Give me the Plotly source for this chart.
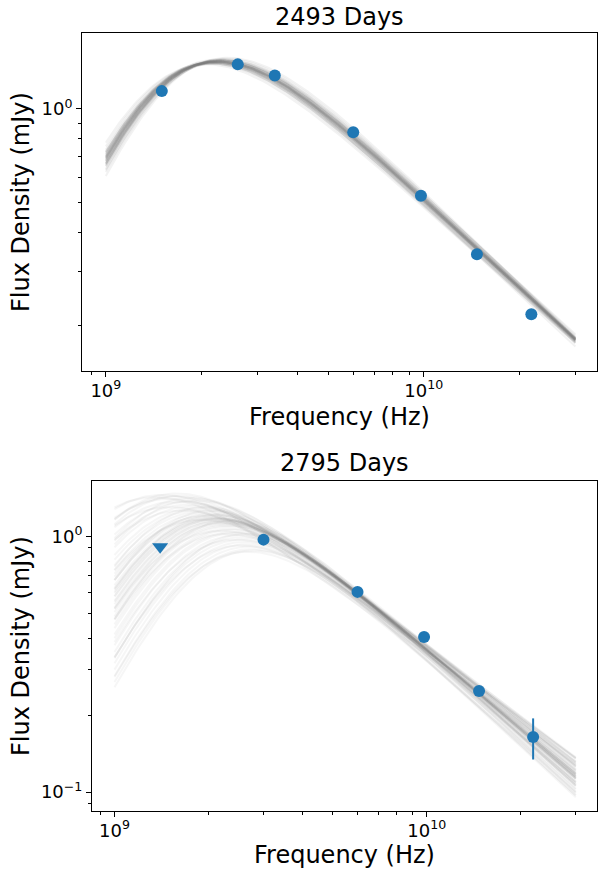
import numpy as np
import plotly.graph_objects as go

# ---------------- data ----------------
# Epoch 1 (2493 days): detections
TOP_FREQ = [1.5e9, 2.6e9, 3.4e9, 6.0e9, 9.8e9, 1.47e10, 2.18e10]
TOP_FLUX = [1.14, 1.39, 1.28, 0.84, 0.525, 0.34, 0.218]

# Epoch 2 (2795 days): detections + one upper limit
BOT_FREQ = [3.0e9, 6.0e9, 9.8e9, 1.47e10, 2.19e10]
BOT_FLUX = [0.97, 0.606, 0.404, 0.248, 0.164]
BOT_ERR = [0.0, 0.0, 0.0, 0.0, 0.03]
BOT_UL_FREQ = [1.4e9]
BOT_UL_FLUX = [0.91]

# Model-draw parameters (peak frequency in GHz, peak flux in mJy, optically thin index)
TOP_NU_P = [2.25, 2.20, 2.30, 2.22, 2.27, 2.15, 2.33, 2.24, 2.18, 2.29,
            2.26, 2.21, 2.31, 2.23, 2.28, 2.12, 2.36, 2.19, 2.25, 2.30,
            2.17, 2.27, 2.22, 2.34, 2.20, 2.26, 2.24, 2.29, 2.16, 2.32,
            2.08, 2.42, 2.25, 2.21, 2.28, 2.23, 2.19, 2.38, 2.26, 2.24]
TOP_F_P = [1.42, 1.41, 1.43, 1.42, 1.42, 1.40, 1.44, 1.42, 1.41, 1.43,
           1.42, 1.41, 1.43, 1.42, 1.42, 1.40, 1.44, 1.41, 1.42, 1.43,
           1.40, 1.42, 1.41, 1.43, 1.41, 1.42, 1.42, 1.43, 1.40, 1.44,
           1.39, 1.46, 1.44, 1.40, 1.41, 1.43, 1.42, 1.45, 1.41, 1.42]
TOP_A2 = [-0.95, -0.94, -0.96, -0.95, -0.95, -0.93, -0.96, -0.95, -0.94, -0.96,
          -0.95, -0.94, -0.96, -0.95, -0.96, -0.93, -0.97, -0.94, -0.95, -0.96,
          -0.94, -0.95, -0.95, -0.97, -0.94, -0.95, -0.95, -0.96, -0.94, -0.97,
          -0.92, -0.99, -0.94, -0.96, -0.96, -0.95, -0.94, -0.98, -0.95, -0.95]

BOT_NU_P = [1.35, 1.42, 1.50, 1.55, 1.60, 1.62, 1.68, 1.72, 1.78, 1.80,
            1.85, 1.88, 1.92, 1.95, 1.97, 2.00, 2.02, 2.04, 2.06, 2.08,
            2.10, 2.11, 2.13, 2.15, 2.16, 2.18, 2.20, 2.21, 2.23, 2.25,
            2.27, 2.30, 2.32, 2.35, 2.38, 2.42, 2.45, 2.50, 2.55, 2.58,
            2.62, 2.66, 2.70, 2.74, 2.78, 1.50, 1.75, 1.95, 2.20, 2.35,
            2.55, 1.65, 2.05, 2.28, 2.62, 1.58, 1.90, 2.45, 2.68, 2.12]
BOT_F_P = [1.42, 1.45, 1.40, 1.43, 1.37, 1.44, 1.36, 1.33, 1.31, 1.38,
           1.29, 1.27, 1.25, 1.23, 1.20, 1.21, 1.19, 1.22, 1.18, 1.17,
           1.18, 1.16, 1.17, 1.15, 1.17, 1.14, 1.15, 1.13, 1.12, 1.13,
           1.11, 1.10, 1.09, 1.07, 1.06, 1.04, 1.03, 1.01, 0.99, 0.97,
           0.95, 0.93, 0.91, 0.89, 0.88, 1.30, 1.41, 1.30, 1.05, 1.15,
           0.92, 1.26, 1.26, 1.02, 1.02, 1.47, 1.16, 0.97, 0.87, 1.21]
BOT_A2 = [-0.90, -0.92, -0.91, -0.94, -0.92, -0.97, -0.94, -0.95, -0.96, -1.00,
          -0.97, -0.98, -0.99, -1.00, -0.98, -1.01, -1.01, -1.03, -1.02, -1.02,
          -1.03, -1.03, -1.04, -1.03, -1.05, -1.04, -1.05, -1.04, -1.05, -1.06,
          -1.05, -1.06, -1.06, -1.07, -1.07, -1.08, -1.08, -1.09, -1.09, -1.10,
          -1.10, -1.11, -1.12, -1.12, -1.13, -0.88, -1.01, -1.07, -0.98, -1.12,
          -1.04, -0.90, -1.09, -1.00, -1.15, -0.99, -0.95, -1.03, -1.08, -1.06]

MODEL_NU_MIN = 1.0e9
MODEL_NU_MAX = 3.0e10


def sbpl(nu, nu_p_ghz, f_p, a2, s=0.8, a1=2.5):
    """Smoothly broken power law normalised to its peak."""
    u_star = np.log10(a1 / (-a2)) / (s * (a1 - a2))
    nu_b = nu_p_ghz * 1e9 / 10 ** u_star

    def shape(x):
        return (x ** (-s * a1) + x ** (-s * a2)) ** (-1.0 / s)

    return f_p * shape(nu / nu_b) / shape(10 ** u_star)


nu_grid = np.logspace(np.log10(MODEL_NU_MIN), np.log10(MODEL_NU_MAX), 150)

W, H = 598, 869
FONT = "DejaVu Sans"
BLUE = "#1f77b4"
CURVE_TOP = "rgba(128,128,128,0.1)"
CURVE_BOT = "rgba(128,128,128,0.07)"

fig = go.Figure()

for nup, fp, a2 in zip(TOP_NU_P, TOP_F_P, TOP_A2):
    fig.add_trace(go.Scatter(x=nu_grid, y=sbpl(nu_grid, nup, fp, a2), mode="lines",
                             line=dict(color=CURVE_TOP, width=2), hoverinfo="skip",
                             showlegend=False, xaxis="x", yaxis="y"))
fig.add_trace(go.Scatter(x=TOP_FREQ, y=TOP_FLUX, mode="markers",
                         marker=dict(color=BLUE, size=12), showlegend=False,
                         xaxis="x", yaxis="y"))

for nup, fp, a2 in zip(BOT_NU_P, BOT_F_P, BOT_A2):
    fig.add_trace(go.Scatter(x=nu_grid, y=sbpl(nu_grid, nup, fp, a2), mode="lines",
                             line=dict(color=CURVE_BOT, width=2), hoverinfo="skip",
                             showlegend=False, xaxis="x2", yaxis="y2"))
fig.add_trace(go.Scatter(x=BOT_FREQ, y=BOT_FLUX, mode="markers",
                         marker=dict(color=BLUE, size=12),
                         error_y=dict(type="data", array=BOT_ERR, color=BLUE,
                                      thickness=2, width=0),
                         showlegend=False, xaxis="x2", yaxis="y2"))
fig.add_trace(go.Scatter(x=BOT_UL_FREQ, y=BOT_UL_FLUX, mode="markers",
                         marker=dict(color=BLUE, size=14, symbol="triangle-down"),
                         showlegend=False, xaxis="x2", yaxis="y2"))


def px_x(p):
    return p / W


def px_y(p):
    return 1 - p / H


XMAJ = [1e9, 1e10]
XMAJ_TXT = ["10<sup>9</sup>", "10<sup>10</sup>"]
XMIN = [9e8, 2e9, 3e9, 4e9, 5e9, 6e9, 7e9, 8e9, 9e9, 2e10, 3e10]
YMIN = [0.09, 0.2, 0.3, 0.4, 0.5, 0.6, 0.7, 0.8, 0.9]

common = dict(type="log", showline=True, linecolor="black", linewidth=1, mirror=True,
              ticks="outside", ticklen=5, tickwidth=1, tickcolor="black",
              showgrid=False, zeroline=False,
              tickfont=dict(family=FONT, size=18, color="black"))
minor = dict(ticks="outside", ticklen=3, tickwidth=1, tickcolor="black", showgrid=False)

fig.update_layout(
    width=W, height=H, margin=dict(l=0, r=0, t=0, b=0),
    paper_bgcolor="white", plot_bgcolor="white",
    font=dict(family=FONT, color="black"),
    xaxis=dict(common, domain=[px_x(82), px_x(597)], range=[8.925, 10.545], anchor="y",
               tickmode="array", tickvals=XMAJ, ticktext=XMAJ_TXT, ticklabelstandoff=-2,
               minor=dict(minor, tickvals=XMIN)),
    yaxis=dict(common, domain=[px_y(371), px_y(33)], range=[-0.844, 0.244], anchor="x",
               tickmode="array", tickvals=[1.0], ticktext=["10<sup>0</sup>"],
               minor=dict(minor, tickvals=YMIN)),
    xaxis2=dict(common, domain=[px_x(92), px_x(597)], range=[8.928, 10.545], anchor="y2",
                tickmode="array", tickvals=XMAJ, ticktext=XMAJ_TXT, ticklabelstandoff=-2,
                minor=dict(minor, tickvals=XMIN)),
    yaxis2=dict(common, domain=[px_y(811), px_y(481)], range=[-1.0743, 0.216], anchor="x2",
                tickmode="array", tickvals=[0.1, 1.0],
                ticktext=["10<sup>\u22121</sup>", "10<sup>0</sup>"],
                minor=dict(minor, tickvals=YMIN)),
)

ann_font = dict(family=FONT, size=24, color="black")
annotations = [
    dict(text="2493 Days", x=px_x(339.5), y=px_y(17), xref="paper", yref="paper",
         xanchor="center", yanchor="middle", showarrow=False, font=ann_font),
    dict(text="Frequency (Hz)", x=px_x(339.5), y=px_y(417), xref="paper", yref="paper",
         xanchor="center", yanchor="middle", showarrow=False, font=ann_font),
    dict(text="Flux Density (mJy)", x=px_x(21), y=px_y(202), xref="paper", yref="paper",
         xanchor="center", yanchor="middle", textangle=-90, showarrow=False, font=ann_font),
    dict(text="2795 Days", x=px_x(344.5), y=px_y(463), xref="paper", yref="paper",
         xanchor="center", yanchor="middle", showarrow=False, font=ann_font),
    dict(text="Frequency (Hz)", x=px_x(344.5), y=px_y(855), xref="paper", yref="paper",
         xanchor="center", yanchor="middle", showarrow=False, font=ann_font),
    dict(text="Flux Density (mJy)", x=px_x(21), y=px_y(646), xref="paper", yref="paper",
         xanchor="center", yanchor="middle", textangle=-90, showarrow=False, font=ann_font),
]
fig.update_layout(annotations=annotations)

fig.write_html("out.html")
